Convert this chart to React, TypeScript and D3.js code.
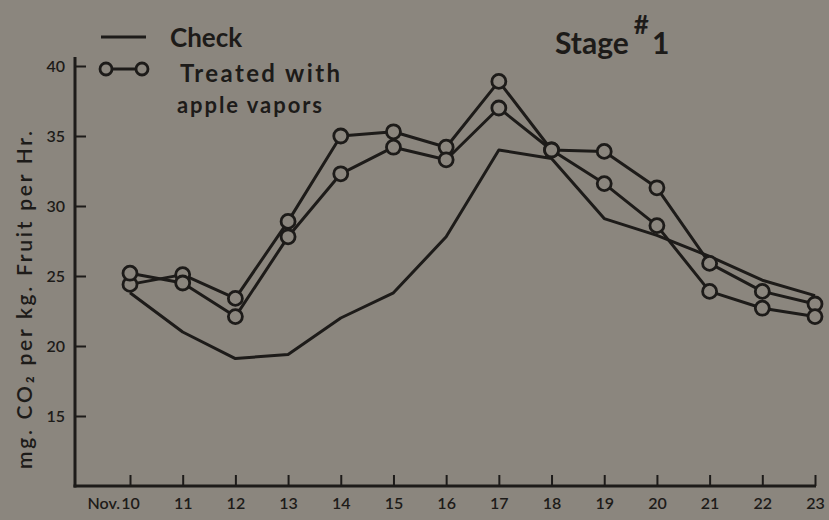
import { useEffect, useRef } from "react";
import * as d3 from "d3";

const days = [10, 11, 12, 13, 14, 15, 16, 17, 18, 19, 20, 21, 22, 23];
const checkValues = [23.8, 21.0, 19.1, 19.4, 22.0, 23.8, 27.8, 34.0, 33.4, 29.1, 27.9, 26.4, 24.7, 23.6];
const treatedA = [24.4, 25.1, 23.4, 28.9, 35.0, 35.3, 34.2, 38.9, 34.0, 33.9, 31.3, 25.9, 23.9, 23.0];
const treatedB = [25.2, 24.5, 22.1, 27.8, 32.3, 34.2, 33.3, 37.0, 34.0, 31.6, 28.6, 23.9, 22.7, 22.1];
const yTicks = [15, 20, 25, 30, 35, 40];

const BG = "#8b867e";
const INK = "#1d1b19";
const FONT = "Lato, 'DejaVu Sans', sans-serif";

export default function App() {
  const svgRef = useRef<SVGSVGElement | null>(null);

  useEffect(() => {
    const svgElement = svgRef.current;
    if (!svgElement) return;
    const width = 829;
    const height = 520;
    const axisLeftX = 75;

    const x = d3.scaleLinear().domain([10, 23]).range([130, 815]);
    const y = d3.scaleLinear().domain([10, 40]).range([486, 66]);

    const svg = d3.select(svgElement);
    svg.selectAll("*").remove();
    svg.attr("viewBox", `0 0 ${width} ${height}`);

    svg.append("rect").attr("width", width).attr("height", height).attr("fill", BG);

    // axis lines drawn by hand so the x axis reaches back to the y axis
    svg
      .append("line")
      .attr("x1", axisLeftX)
      .attr("x2", axisLeftX)
      .attr("y1", 57)
      .attr("y2", y(10) + 1.5)
      .attr("stroke", INK)
      .attr("stroke-width", 3);
    svg
      .append("line")
      .attr("x1", axisLeftX - 1.5)
      .attr("x2", x(23) + 1)
      .attr("y1", y(10))
      .attr("y2", y(10))
      .attr("stroke", INK)
      .attr("stroke-width", 3);

    const xAxis = svg
      .append("g")
      .attr("transform", `translate(0, ${y(10)})`)
      .call(d3.axisBottom(x).tickValues(days).tickSize(-11).tickSizeOuter(0).tickPadding(12).tickFormat((d) => `${d}`));
    xAxis.select(".domain").remove();
    xAxis.selectAll("line").attr("stroke", INK).attr("stroke-width", 2);
    xAxis
      .selectAll("text")
      .attr("fill", INK)
      .attr("font-size", 16)
      .attr("font-weight", 600)
      .attr("font-family", FONT);

    svg
      .append("text")
      .attr("x", x(10) - 10)
      .attr("y", y(10) + 23)
      .attr("text-anchor", "end")
      .attr("font-size", 16)
      .attr("font-weight", 600)
      .attr("font-family", FONT)
      .attr("fill", INK)
      .text("Nov.");

    const yAxis = svg
      .append("g")
      .attr("transform", `translate(${axisLeftX}, 0)`)
      .call(d3.axisLeft(y).tickValues(yTicks).tickSize(-11).tickSizeOuter(0).tickPadding(10).tickFormat((d) => `${d}`));
    yAxis.select(".domain").remove();
    yAxis.selectAll("line").attr("stroke", INK).attr("stroke-width", 2);
    yAxis
      .selectAll("text")
      .attr("fill", INK)
      .attr("font-size", 16)
      .attr("font-weight", 600)
      .attr("font-family", FONT);

    svg
      .append("text")
      .attr("transform", `translate(32, 300) rotate(-90)`)
      .attr("text-anchor", "middle")
      .attr("font-size", 21)
      .attr("font-weight", 600)
      .attr("font-family", FONT)
      .attr("fill", INK)
      .attr("textLength", 338)
      .attr("lengthAdjust", "spacing")
      .text("mg. CO₂ per kg. Fruit per Hr.");

    const line = d3
      .line<number>()
      .x((_, i) => x(days[i]))
      .y((v) => y(v));

    [checkValues, treatedA, treatedB].forEach((values) => {
      svg
        .append("path")
        .attr("d", line(values) ?? "")
        .attr("fill", "none")
        .attr("stroke", INK)
        .attr("stroke-width", 3)
        .attr("stroke-linejoin", "round");
    });

    [treatedA, treatedB].forEach((values) => {
      svg
        .append("g")
        .selectAll("circle")
        .data(values)
        .join("circle")
        .attr("cx", (_, i) => x(days[i]))
        .attr("cy", (v) => y(v))
        .attr("r", 7)
        .attr("fill", BG)
        .attr("stroke", INK)
        .attr("stroke-width", 2.8);
    });

    // legend
    const legend = svg.append("g").attr("font-family", FONT).attr("fill", INK).attr("font-weight", 700);
    legend
      .append("line")
      .attr("x1", 101)
      .attr("x2", 146)
      .attr("y1", 37)
      .attr("y2", 37)
      .attr("stroke", INK)
      .attr("stroke-width", 3);
    legend.append("text").attr("x", 170).attr("y", 47).attr("font-size", 26).text("Check");
    legend
      .append("line")
      .attr("x1", 106)
      .attr("x2", 142)
      .attr("y1", 69)
      .attr("y2", 69)
      .attr("stroke", INK)
      .attr("stroke-width", 3);
    [106, 142].forEach((cx) => {
      legend
        .append("circle")
        .attr("cx", cx)
        .attr("cy", 69)
        .attr("r", 6)
        .attr("fill", BG)
        .attr("stroke", INK)
        .attr("stroke-width", 2.8);
    });
    legend
      .append("text")
      .attr("x", 180)
      .attr("y", 82)
      .attr("font-size", 24)
      .attr("textLength", 160)
      .attr("lengthAdjust", "spacing")
      .text("Treated with");
    legend
      .append("text")
      .attr("x", 177)
      .attr("y", 113)
      .attr("font-size", 22)
      .attr("textLength", 145)
      .attr("lengthAdjust", "spacing")
      .text("apple vapors");

    // title
    const title = svg
      .append("text")
      .attr("x", 555)
      .attr("y", 54)
      .attr("font-family", FONT)
      .attr("font-weight", 700)
      .attr("fill", INK);
    title.append("tspan").attr("font-size", 30).text("Stage");
    title.append("tspan").attr("font-size", 26).attr("dx", 5).attr("dy", -20).text("#");
    title.append("tspan").attr("font-size", 30).attr("dx", 3).attr("dy", 20).text("1");
  }, []);

  return (
    <svg
      ref={svgRef}
      width={829}
      height={520}
      style={{ position: "fixed", left: 0, top: 0, display: "block" }}
      role="img"
      aria-label="Stage 1 respiration chart"
    />
  );
}
